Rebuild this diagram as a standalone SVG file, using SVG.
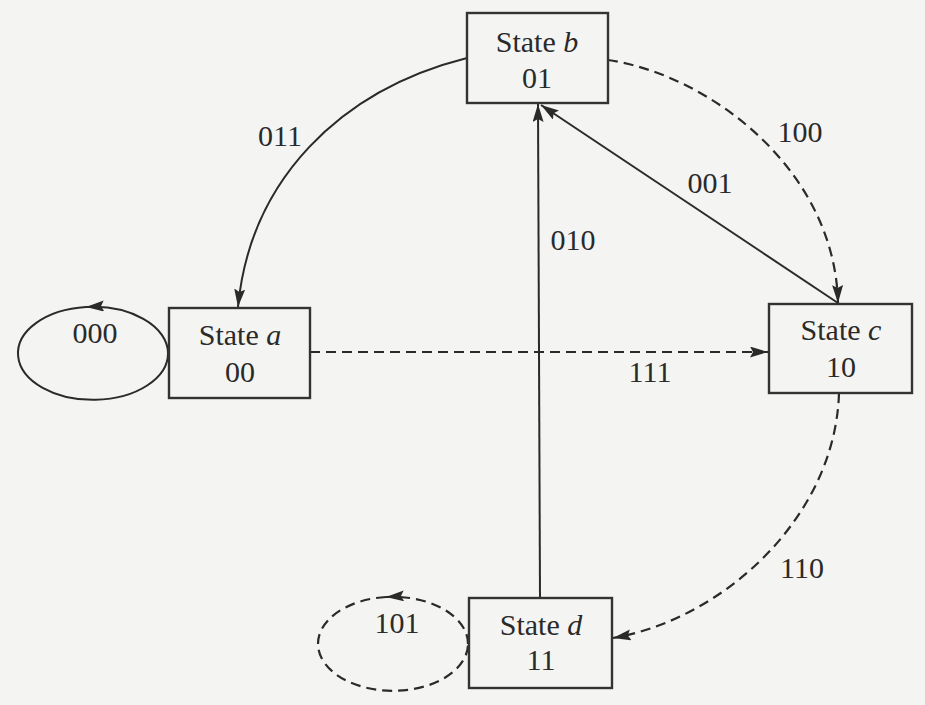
<svg xmlns="http://www.w3.org/2000/svg" width="925" height="705" viewBox="0 0 925 705">
<defs>
<marker id="ah" markerUnits="userSpaceOnUse" markerWidth="20" markerHeight="12" refX="18" refY="5.5" orient="auto">
<path d="M0,0 L18,5.5 L0,11 L3,5.5 z" fill="#2a2a2a"/>
</marker>
<style>
.box{fill:none;stroke:#333;stroke-width:2.4}
.t{font-family:"Liberation Serif","Times New Roman",serif;font-size:30px;fill:#2a2a2a;text-anchor:middle}
.i{font-style:italic}
.ln{fill:none;stroke:#2a2a2a;stroke-width:2}
.ds{fill:none;stroke:#2a2a2a;stroke-width:2.2;stroke-dasharray:10 6}
</style>
</defs>
<rect x="0" y="0" width="925" height="705" fill="#f4f5f3"/>

<g id="connectors">
<path class="ln" d="M467,58 C340,90 250,180 238,307" marker-end="url(#ah)"/>
<path class="ds" d="M608,60 C710,75 835,170 838,303" marker-end="url(#ah)"/>
<path class="ln" d="M838,303 L541,105" marker-end="url(#ah)"/>
<path class="ln" d="M540,598 L538,104" marker-end="url(#ah)"/>
<path class="ds" d="M310,352 L768,352" marker-end="url(#ah)"/>
<path class="ds" d="M839,393 C835,520 720,620 613,638" marker-end="url(#ah)"/>
<path class="ln" d="M168,353 A75,46.5 0 0 0 86,307" marker-end="url(#ah)"/>
<path class="ln" d="M86,307 A75,46.5 0 1 0 168,353"/>
<path class="ds" d="M468,644 A75,47 0 0 0 386,597" marker-end="url(#ah)"/>
<path class="ds" d="M386,597 A75,47 0 1 0 468,644"/>
<text class="t" x="95" y="343">000</text>
<text class="t" x="397" y="633">101</text>
<text class="t" x="280" y="146">011</text>
<text class="t" x="800" y="142">100</text>
<text class="t" x="710" y="193">001</text>
<text class="t" x="573" y="250">010</text>
<text class="t" x="650" y="382">111</text>
<text class="t" x="802" y="578">110</text>
</g>

<g id="state-b">
<rect class="box" x="467" y="13" width="141" height="90"/>
<text class="t" x="537" y="52">State <tspan class="i">b</tspan></text>
<text class="t" x="537" y="88">01</text>
</g>
<g id="state-a">
<rect class="box" x="169" y="308" width="141" height="90"/>
<text class="t" x="240" y="345">State <tspan class="i">a</tspan></text>
<text class="t" x="240" y="382">00</text>
</g>
<g id="state-c">
<rect class="box" x="769" y="304" width="143" height="89"/>
<text class="t" x="841" y="340">State <tspan class="i">c</tspan></text>
<text class="t" x="841" y="377">10</text>
</g>
<g id="state-d">
<rect class="box" x="469" y="598" width="143" height="90"/>
<text class="t" x="541" y="635">State <tspan class="i">d</tspan></text>
<text class="t" x="541" y="670">11</text>
</g>
</svg>
